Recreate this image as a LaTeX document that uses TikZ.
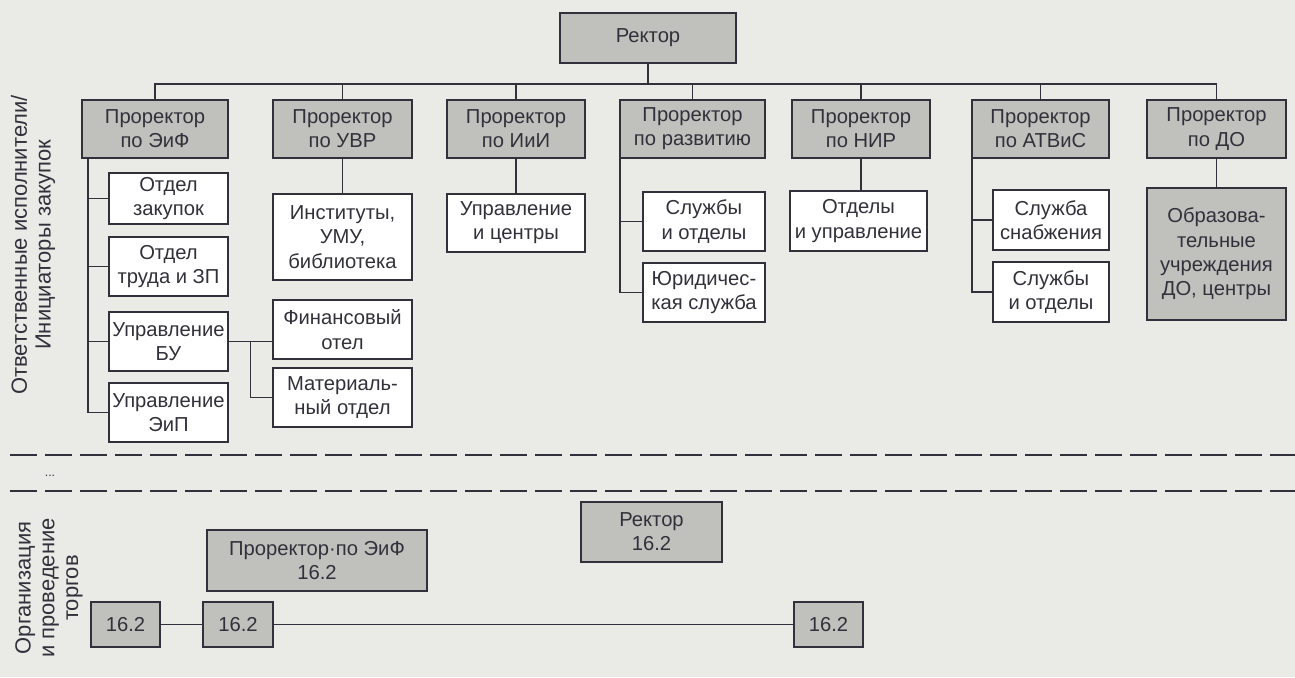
\documentclass[tikz,border=0pt]{standalone}
\usepackage{fontspec}
\setmainfont{Liberation Sans}
\usepackage{xcolor}
\definecolor{pagebg}{RGB}{234,234,231}
\definecolor{boxgray}{RGB}{192,192,189}
\definecolor{ink}{RGB}{50,48,58}

\begin{document}
\begin{tikzpicture}[x=0.02cm, y=-0.02cm,
    unit/.style={draw=ink, line width=0.9pt, fill=white, text=ink, align=center,
        inner sep=1pt, font=\fontsize{11.5}{13.8}\selectfont},
    shaded/.style={unit, fill=boxgray},
    link/.style={draw=ink, line width=0.9pt},
    sep/.style={draw=ink, line width=1.1pt, dash pattern=on 0.54cm off 0.16cm},
    sidelabel/.style={rotate=90, text=ink, align=center, font=\fontsize{12.5}{13.5}\selectfont}]
    % Page
    \fill[pagebg] (0,0) rectangle (1295,677);
    \useasboundingbox (0,0) rectangle (1295,677);

    % Rector and vice-rectors
    \node[shaded, minimum width=3.52cm, minimum height=1cm] (rector) at (648,38) {Ректор};
    \node[shaded, minimum width=2.92cm, minimum height=1.16cm] (pef) at (155,129) {Проректор\\по ЭиФ};
    \node[shaded, minimum width=2.78cm, minimum height=1.16cm] (puvr) at (342.5,129) {Проректор\\по УВР};
    \node[shaded, minimum width=2.76cm, minimum height=1.16cm] (piii) at (516,129) {Проректор\\по ИиИ};
    \node[shaded, minimum width=2.9cm, minimum height=1.16cm] (prazv) at (692.5,129) {Проректор\\по развитию};
    \node[shaded, minimum width=2.76cm, minimum height=1.16cm] (pnir) at (861,129) {Проректор\\по НИР};
    \node[shaded, minimum width=2.74cm, minimum height=1.16cm] (patv) at (1040.5,129) {Проректор\\по АТВиС};
    \node[shaded, minimum width=2.78cm, minimum height=1.16cm] (pdo) at (1216.5,129) {Проректор\\по ДО};

    % Departments
    \node[unit, minimum width=2.38cm, minimum height=1.02cm] (zak) at (168.5,198.5) {Отдел\\закупок};
    \node[unit, minimum width=2.38cm, minimum height=1.18cm] (trud) at (168.5,266.5) {Отдел\\труда и ЗП};
    \node[unit, minimum width=2.38cm, minimum height=1.18cm] (bu) at (168.5,341.5) {Управление\\БУ};
    \node[unit, minimum width=2.38cm, minimum height=1.18cm] (eip) at (168.5,412.5) {Управление\\ЭиП};
    \node[unit, minimum width=2.78cm, minimum height=1.72cm] (inst) at (342.5,237) {Институты,\\УМУ,\\библиотека};
    \node[unit, minimum width=2.78cm, minimum height=1.18cm] (fin) at (342.5,329.5) {Финансовый\\отел};
    \node[unit, minimum width=2.78cm, minimum height=1.18cm] (mat) at (342.5,397.5) {Материаль-\\ный отдел};
    \node[unit, minimum width=2.76cm, minimum height=1.16cm] (upr) at (516,223) {Управление\\и центры};
    \node[unit, minimum width=2.44cm, minimum height=1.18cm] (slu) at (704,221.5) {Службы\\и отделы};
    \node[unit, minimum width=2.44cm, minimum height=1.18cm] (jur) at (704,292.5) {Юридичес-\\кая служба};
    \node[unit, minimum width=2.74cm, minimum height=1.2cm] (otd) at (858.5,221) {Отделы\\и управление};
    \node[unit, minimum width=2.32cm, minimum height=1.2cm] (sna) at (1051,220) {Служба\\снабжения};
    \node[unit, minimum width=2.32cm, minimum height=1.2cm] (slo) at (1051,292) {Службы\\и отделы};
    \node[shaded, minimum width=2.78cm, minimum height=2.64cm] (obr) at (1216.5,254) {Образова-\\тельные\\учреждения\\ДО, центры};

    % Bus under the rector
    \coordinate (bus) at (0,84);
    \draw[link] (rector.south) -- (rector.south |- bus);
    \draw[link] (pef.north) -- (pef.north |- bus) -- (pdo.north |- bus) -- (pdo.north);
    \foreach \n in {puvr, piii, prazv, pnir, patv}
        \draw[link] (\n.north) -- (\n.north |- bus);

    % Vice-rector to departments
    \coordinate (efspine) at ([xshift=0.14cm]pef.south west);
    \foreach \n in {zak, trud, bu, eip}
        \draw[link] (efspine) |- (\n.west);
    \draw[link] (puvr.south) -- (inst.north);
    \draw[link] (bu.east) -- (bu.east -| fin.west);
    \path (bu.east) -- (bu.east -| fin.west) coordinate[pos=0.5] (bujoin);
    \draw[link] (bujoin) |- (mat.west);
    \draw[link] (piii.south) -- (upr.north);
    \coordinate (razvspine) at ([xshift=0.02cm]prazv.south west);
    \foreach \n in {slu, jur}
        \draw[link] (razvspine) |- (\n.west);
    \draw[link] (pnir.south) -- (pnir.south |- otd.north);
    \coordinate (atvspine) at ([xshift=0.02cm]patv.south west);
    \foreach \n in {sna, slo}
        \draw[link] (atvspine) |- (\n.west);
    \draw[link] (pdo.south) -- (obr.north);

    % Separators
    \draw[sep] (10,455) -- (1295,455);
    \draw[sep] (10,491) -- (1295,491);
    \node[text=ink, font=\fontsize{7}{8}\selectfont] (dots) at (50,476) {...};

    % Tender row
    \node[shaded, minimum width=2.82cm, minimum height=1.2cm] (rec16) at (651.5,532) {Ректор\\16.2};
    \node[shaded, minimum width=4.4cm, minimum height=1.22cm] (ef16) at (317,560.5) {Проректор·по ЭиФ\\16.2};
    \node[shaded, minimum width=1.38cm, minimum height=0.9cm] (ta) at (125.5,624.5) {16.2};
    \node[shaded, minimum width=1.4cm, minimum height=0.9cm] (tb) at (238,624.5) {16.2};
    \node[shaded, minimum width=1.38cm, minimum height=0.9cm] (tc) at (828.5,624.5) {16.2};
    \draw[link] (ta) -- (tb);
    \draw[link] (tb) -- (tc);

    % Side labels
    \node[sidelabel] (lbltop) at (33,245) {Ответственные исполнители/\\Инициаторы закупок};
    \node[sidelabel] (lblbot) at (49,588) {Организация\\и проведение\\торгов};
\end{tikzpicture}
\end{document}
